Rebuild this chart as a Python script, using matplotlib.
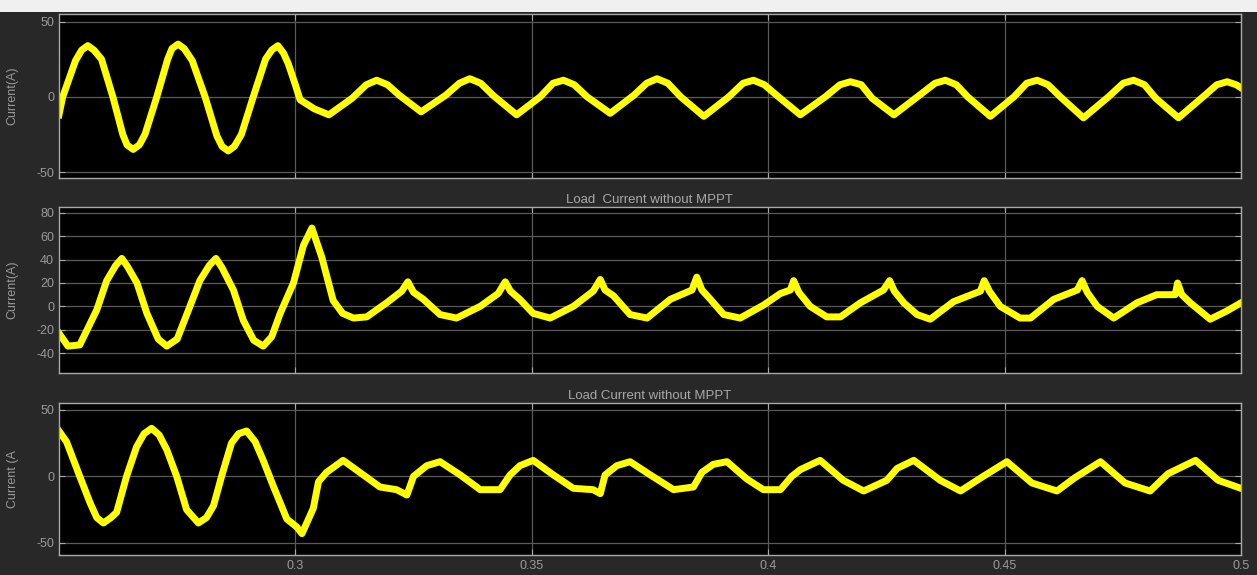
import matplotlib.pyplot as plt
from matplotlib.patches import Rectangle

# top panel: (time, current)
top_t = [0.2500, 0.2508, 0.2535, 0.2548, 0.2561, 0.2574, 0.2590, 0.2614, 0.2635, 0.2644,
         0.2657, 0.2670, 0.2682, 0.2707, 0.2730, 0.2739, 0.2752, 0.2765, 0.2782, 0.2809,
         0.2834, 0.2845, 0.2858, 0.2871, 0.2886, 0.2911, 0.2937, 0.2950, 0.2963, 0.2975,
         0.2985, 0.3000, 0.3010, 0.3040, 0.3071, 0.3120, 0.3150, 0.3172, 0.3195, 0.3220,
         0.3266, 0.3318, 0.3347, 0.3369, 0.3392, 0.3418, 0.3468, 0.3518, 0.3545, 0.3567,
         0.3590, 0.3617, 0.3666, 0.3716, 0.3743, 0.3765, 0.3788, 0.3815, 0.3864, 0.3917,
         0.3947, 0.3969, 0.3992, 0.4018, 0.4068, 0.4121, 0.4152, 0.4174, 0.4197, 0.4220,
         0.4266, 0.4320, 0.4353, 0.4375, 0.4398, 0.4422, 0.4470, 0.4520, 0.4547, 0.4569,
         0.4592, 0.4618, 0.4667, 0.4720, 0.4751, 0.4773, 0.4796, 0.4820, 0.4868, 0.4920,
         0.4949, 0.4971, 0.4990, 0.5000]
top_i = [-12, 0, 24, 31, 34, 31, 25, 0, -25, -32,
         -35, -32, -25, 0, 25, 32, 35, 32, 24, 0,
         -26, -33, -36, -33, -25, 0, 25, 31, 34, 29,
         22, 8, -2, -8, -12, -1, 8, 11, 8, 1,
         -10, 1, 9, 12, 9, 1, -12, 0, 9, 11,
         8, 0, -11, 1, 9, 12, 9, 0, -13, 0,
         9, 11, 8, 1, -12, 0, 8, 10, 8, -1,
         -12, 1, 9, 11, 8, 0, -13, 0, 9, 11,
         8, 0, -14, 0, 9, 11, 8, -1, -14, 0,
         8, 10, 8, 6]

# middle panel
mid_t = [0.2500, 0.2519, 0.2544, 0.2580, 0.2601, 0.2620, 0.2633, 0.2645, 0.2665, 0.2686,
         0.2710, 0.2728, 0.2750, 0.2777, 0.2798, 0.2818, 0.2832, 0.2845, 0.2869, 0.2890,
         0.2912, 0.2932, 0.2950, 0.2968, 0.2996, 0.3017, 0.3035, 0.3056, 0.3080, 0.3100,
         0.3123, 0.3151, 0.3193, 0.3225, 0.3238, 0.3250, 0.3271, 0.3306, 0.3341, 0.3391,
         0.3429, 0.3444, 0.3455, 0.3475, 0.3503, 0.3539, 0.3588, 0.3630, 0.3645, 0.3655,
         0.3673, 0.3708, 0.3744, 0.3793, 0.3839, 0.3849, 0.3860, 0.3878, 0.3906, 0.3941,
         0.3990, 0.4026, 0.4047, 0.4054, 0.4065, 0.4089, 0.4124, 0.4153, 0.4195, 0.4244,
         0.4257, 0.4267, 0.4287, 0.4315, 0.4343, 0.4392, 0.4449, 0.4457, 0.4468, 0.4491,
         0.4533, 0.4555, 0.4604, 0.4654, 0.4664, 0.4675, 0.4696, 0.4731, 0.4780, 0.4822,
         0.4861, 0.4866, 0.4875, 0.4893, 0.4935, 0.4970, 0.5000]
mid_i = [-23, -34, -33, -3, 22, 35, 41, 34, 20, -6,
         -28, -34, -28, 0, 22, 35, 41, 33, 14, -12,
         -29, -34, -26, -6, 20, 52, 67, 42, 5, -6,
         -10, -9, 3, 13, 21, 12, 6, -7, -10, 0,
         11, 21, 13, 6, -6, -10, 0, 13, 23, 14,
         9, -7, -10, 6, 14, 25, 14, 6, -7, -10,
         1, 11, 14, 22, 12, 0, -9, -9, 3, 14,
         22, 13, 3, -7, -11, 4, 13, 22, 13, 0,
         -10, -10, 6, 14, 22, 12, 0, -10, 3, 10,
         10, 20, 10, 3, -11, -4, 3]

# bottom panel
bot_t = [0.2500, 0.2516, 0.2544, 0.2566, 0.2580, 0.2594, 0.2610, 0.2622, 0.2643, 0.2664,
         0.2680, 0.2696, 0.2712, 0.2728, 0.2749, 0.2770, 0.2795, 0.2812, 0.2827, 0.2844,
         0.2865, 0.2880, 0.2897, 0.2915, 0.2932, 0.2953, 0.2982, 0.3003, 0.3014, 0.3038,
         0.3049, 0.3066, 0.3101, 0.3144, 0.3179, 0.3214, 0.3236, 0.3250, 0.3278, 0.3306,
         0.3349, 0.3391, 0.3433, 0.3454, 0.3475, 0.3503, 0.3546, 0.3588, 0.3630, 0.3645,
         0.3655, 0.3680, 0.3708, 0.3751, 0.3800, 0.3842, 0.3860, 0.3884, 0.3913, 0.3955,
         0.3990, 0.4026, 0.4050, 0.4068, 0.4110, 0.4159, 0.4202, 0.4251, 0.4273, 0.4308,
         0.4364, 0.4407, 0.4455, 0.4505, 0.4558, 0.4611, 0.4649, 0.4703, 0.4755, 0.4808,
         0.4846, 0.4904, 0.4952, 0.5000]
bot_i = [34, 26, 0, -20, -31, -35, -31, -27, 0, 22,
         32, 36, 31, 20, 0, -25, -35, -31, -22, 0,
         25, 32, 34, 26, 12, -7, -32, -38, -43, -24,
         -4, 3, 12, 1, -8, -10, -14, 0, 8, 11,
         1, -10, -10, 1, 8, 12, 1, -9, -10, -13,
         1, 8, 11, 1, -10, -8, 3, 9, 11, -2,
         -10, -10, 0, 5, 12, -3, -11, -3, 6, 12,
         -3, -11, 0, 11, -5, -11, -1, 11, -5, -11,
         2, 12, -3, -9]

xticks = [0.3, 0.35, 0.4, 0.45, 0.5]
xticklabels = ["0.3", "0.35", "0.4", "0.45", "0.5"]

panels = [
    (top_t, top_i, [-50, 0, 50], (-54, 55), "Current(A)", ""),
    (mid_t, mid_i, [-40, -20, 0, 20, 40, 60, 80], (-57, 85), "Current(A)", "Load  Current without MPPT"),
    (bot_t, bot_i, [-50, 0, 50], (-59, 55), "Current (A", "Load Current without MPPT"),
]
# axes rectangles in figure fraction
boxes = [
    [0.0469, 0.6904, 0.9403, 0.2852],
    [0.0469, 0.3513, 0.9403, 0.2887],
    [0.0469, 0.0348, 0.9403, 0.2643],
]

plt.rcParams['font.family'] = ['Liberation Sans', 'DejaVu Sans']
plt.rcParams['axes.unicode_minus'] = False

fig = plt.figure(figsize=(12.57, 5.75), dpi=100, facecolor='#282828')
# light strip of the window header
fig.add_artist(Rectangle((0, 1 - 12 / 575), 1, 12 / 575, transform=fig.transFigure,
                         facecolor='#f0f0f0', edgecolor='none'))

for k, ((t, cur, yt, ylim, ylab, title), box) in enumerate(zip(panels, boxes)):
    ax = fig.add_axes(box)
    ax.set_facecolor('black')
    ax.plot(t, cur, color='#ffff00', lw=5, solid_joinstyle='round')
    ax.set_xlim(0.25, 0.5)
    ax.set_ylim(*ylim)
    ax.set_yticks(yt)
    ax.set_xticks(xticks)
    if k == 2:
        ax.set_xticklabels(xticklabels)
    else:
        ax.set_xticklabels([])
    ax.grid(True, color='#5a5a5a', lw=0.9)
    ax.set_axisbelow(True)
    for s in ax.spines.values():
        s.set_color('#a8a8a8')
        s.set_linewidth(1.0)
    ax.tick_params(direction='in', length=4, colors='#a8a8a8', labelcolor='#9a9a9a',
                   labelsize=9, top=True, right=True)
    ax.set_ylabel(ylab, color='#9a9a9a', fontsize=9)
    ax.yaxis.set_label_coords(-0.034, 0.5)
    if title:
        ax.set_title(title, color='#a8a8a8', fontsize=9.5, pad=3)

fig.savefig('out.png', dpi=100, facecolor=fig.get_facecolor())
